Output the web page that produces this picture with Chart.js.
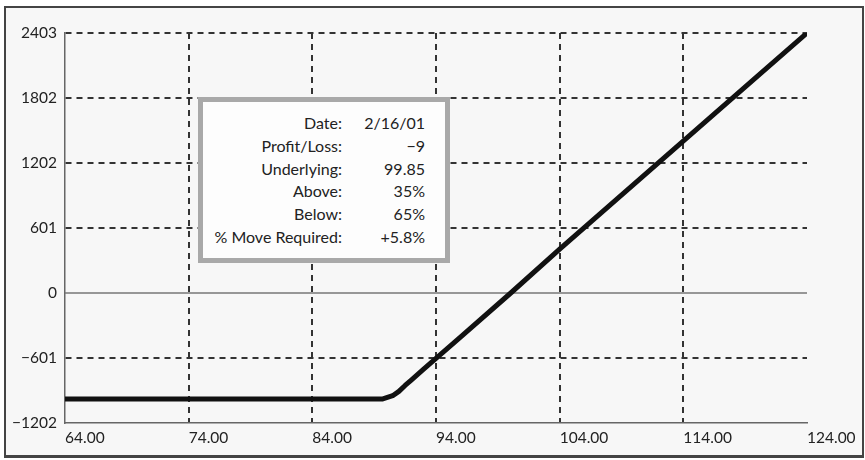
<!DOCTYPE html>
<html>
<head>
<meta charset="utf-8">
<script src="https://cdn.jsdelivr.net/npm/chart.js@4.4.1/dist/chart.umd.min.js"></script>
<style>
  html, body { margin: 0; padding: 0; background: #fff; }
  body { width: 865px; height: 460px; position: relative; overflow: hidden; }
  #frame {
    position: absolute; left: 4px; top: 6px; width: 860px; height: 452px;
    box-sizing: border-box; background: #f7f7f7;
    border: 2px solid #444; border-bottom-width: 3px;
  }
  #wrap { position: absolute; left: 0; top: 0; width: 865px; height: 460px; }
  #info {
    position: absolute; left: 198px; top: 97px; width: 252px; height: 166px;
    box-sizing: border-box; border: 5px solid #a9a9a9; background: #fdfdfd;
    font-family: Lato, "Open Sans", sans-serif;
    font-size: 16px; color: #222; padding-top: 10px;
  }
  #info .row { display: flex; height: 22.8px; line-height: 22.8px; white-space: nowrap; }
  #info .lab { width: 139px; text-align: right; flex: none; }
  #info .val { width: 83px; text-align: right; flex: none; }
</style>
</head>
<body>
<div id="frame"></div>
<div id="wrap"><canvas id="chart" width="865" height="460"></canvas></div>
<div id="info"></div>
<script>
const FONT = 'Lato, "Open Sans", sans-serif';

// payoff curve
const priceX = [64, 70, 76, 82, 88, 89.7, 90.5, 91, 91.5, 92, 93, 94, 96, 100, 104, 108, 112, 116, 120, 124];
const profitY = [-980, -980, -980, -980, -980, -980, -950, -910, -855, -805, -705, -605, -405, -5, 405, 805, 1205, 1605, 2005, 2403];

const xTicks = [64, 74, 84, 94, 104, 114, 124];
const yTicks = [-1202, -601, 0, 601, 1202, 1802, 2403];

const infoLabels = ['Date:', 'Profit/Loss:', 'Underlying:', 'Above:', 'Below:', '% Move Required:'];
const infoValues = ['2/16/01', '\u22129', '99.85', '35%', '65%', '+5.8%'];

// info box text
const info = document.getElementById('info');
infoLabels.forEach((l, i) => {
    const row = document.createElement('div');
    row.className = 'row';
    row.innerHTML = '<span class="lab"></span><span class="val"></span>';
    row.children[0].textContent = l;
    row.children[1].textContent = infoValues[i];
    info.appendChild(row);
});

const fmtY = v => v < 0 ? '\u2212' + Math.abs(v) : String(v);

new Chart(document.getElementById('chart'), {
    type: 'line',
    data: {
        datasets: [
            {
                data: priceX.map((x, i) => ({ x, y: profitY[i] })),
                borderColor: '#111',
                borderWidth: 5,
                pointRadius: 0,
                tension: 0,
                borderJoinStyle: 'round',
                borderCapStyle: 'round'
            },
            {
                // zero line
                data: [{ x: xTicks[0], y: 0 }, { x: xTicks[xTicks.length - 1], y: 0 }],
                borderColor: '#777',
                borderWidth: 1.5,
                pointRadius: 0
            }
        ]
    },
    options: {
        responsive: false,
        animation: false,
        events: [],
        layout: { padding: { left: 5, top: 33, right: 58, bottom: 0 } },
        plugins: { legend: { display: false }, tooltip: { enabled: false } },
        scales: {
            x: {
                type: 'linear',
                min: 64, max: 124,
                afterBuildTicks: s => { s.ticks = xTicks.map(v => ({ value: v })); },
                afterFit: s => { s.height = 37; s.paddingLeft = 0; s.paddingRight = 0; },
                ticks: {
                    align: 'start',
                    padding: 6,
                    color: '#222',
                    font: { family: FONT, size: 15.5 },
                    callback: v => Number(v).toFixed(2)
                },
                grid: {
                    drawTicks: false,
                    lineWidth: 2,
                    color: c => (c.tick && (c.tick.value === 64 || c.tick.value === 124)) ? 'rgba(0,0,0,0)' : '#333'
                },
                border: { display: true, color: '#666', width: 1.5, dash: [6, 5] }
            },
            y: {
                min: -1202, max: 2403,
                afterBuildTicks: s => { s.ticks = yTicks.map(v => ({ value: v })); },
                afterFit: s => { s.width = 60; s.paddingTop = 0; s.paddingBottom = 0; },
                ticks: {
                    padding: 8,
                    color: '#222',
                    font: { family: FONT, size: 15.5 },
                    callback: v => fmtY(v)
                },
                grid: {
                    drawTicks: false,
                    lineWidth: 2,
                    color: c => (c.tick && (c.tick.value === -1202 || c.tick.value === 0)) ? 'rgba(0,0,0,0)' : '#333'
                },
                border: { display: true, color: '#666', width: 1.5, dash: [6, 5] }
            }
        }
    }
});
</script>
</body>
</html>
